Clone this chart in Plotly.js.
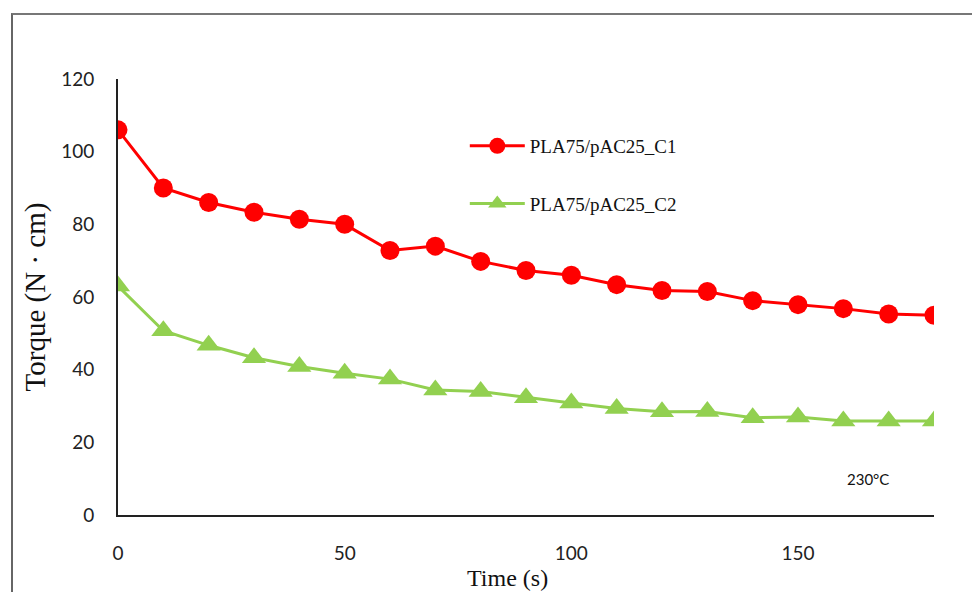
<!DOCTYPE html>
<html>
<head>
<meta charset="utf-8">
<script src="https://cdn.plot.ly/plotly-3.0.1.min.js"></script>
<style>
html,body{margin:0;padding:0;background:#fff;}
#chart{width:972px;height:592px;position:absolute;left:0;top:0;}
#frame{position:absolute;left:11px;top:13px;width:1000px;height:700px;border-left:2px solid #666;border-top:2px solid #777;pointer-events:none;z-index:5;}
</style>
</head>
<body>
<div id="chart"></div>
<div id="frame"></div>
<script>
const time = [0,10,20,30,40,50,60,70,80,90,100,110,120,130,140,150,160,170,180];
const torqueC1 = [106,90,86,83.3,81.4,80,72.8,74,69.8,67.3,66,63.4,61.8,61.5,59,57.9,56.8,55.3,55];
const torqueC2 = [63,50.7,46.7,43.3,40.9,39,37.4,34.4,34,32.3,30.8,29.3,28.4,28.5,26.8,27,25.9,25.9,25.9];
const seriesNames = ['PLA75/pAC25_C1','PLA75/pAC25_C2'];
const xTicks = [0,50,100,150];
const yTicks = [0,20,40,60,80,100,120];

const traces = [
  {x: time, y: torqueC1, name: seriesNames[0], mode: 'lines+markers', legendgroup: 'a',
   line: {color: '#FF0000', width: 3}, marker: {symbol: 'circle', size: 19, color: '#FF0000'}},
  {x: time, y: torqueC2, name: seriesNames[1], mode: 'lines+markers', legendgroup: 'b',
   line: {color: '#92D050', width: 3}, marker: {symbol: 'triangle-up', size: 21, color: '#92D050'}}
];

const layout = {
  width: 972, height: 592,
  margin: {l: 118, r: 38, t: 79, b: 77},
  paper_bgcolor: 'rgba(0,0,0,0)', plot_bgcolor: '#fff',
  showlegend: true,
  legend: {x: 0.425, y: 0.89, xanchor: 'left', yanchor: 'top',
    font: {family: 'Liberation Serif', size: 19, color: '#111'}, bgcolor: 'rgba(0,0,0,0)',
    tracegroupgap: 30, traceorder: 'grouped', itemwidth: 55},
  xaxis: {range: [0, 180], tickvals: xTicks, showgrid: false, zeroline: false,
    showline: true, linecolor: '#222', linewidth: 2,
    ticks: 'outside', ticklen: 20, tickcolor: 'rgba(0,0,0,0)',
    tickfont: {family: 'Lato', size: 19, color: '#222'}},
  yaxis: {range: [0, 120], tickvals: yTicks, showgrid: false, zeroline: false,
    showline: true, linecolor: '#222', linewidth: 2,
    ticks: 'outside', ticklen: 18, tickcolor: 'rgba(0,0,0,0)',
    tickfont: {family: 'Lato', size: 19, color: '#222'},
    title: {text: 'Torque (N · cm)', font: {family: 'Liberation Serif', size: 29, color: '#111'}, standoff: 7}},
  annotations: [
    {xref: 'paper', yref: 'paper', x: 0.947, y: 0.058, text: '230°C', showarrow: false,
     font: {family: 'Lato', size: 15, color: '#111'}},
    {xref: 'paper', yref: 'paper', x: 0.477, y: -0.145, yanchor: 'middle', text: 'Time (s)', showarrow: false,
     font: {family: 'Liberation Serif', size: 24, color: '#111'}}
  ]
};

Plotly.newPlot('chart', traces, layout, {displayModeBar: false, staticPlot: true});
</script>
</body>
</html>
